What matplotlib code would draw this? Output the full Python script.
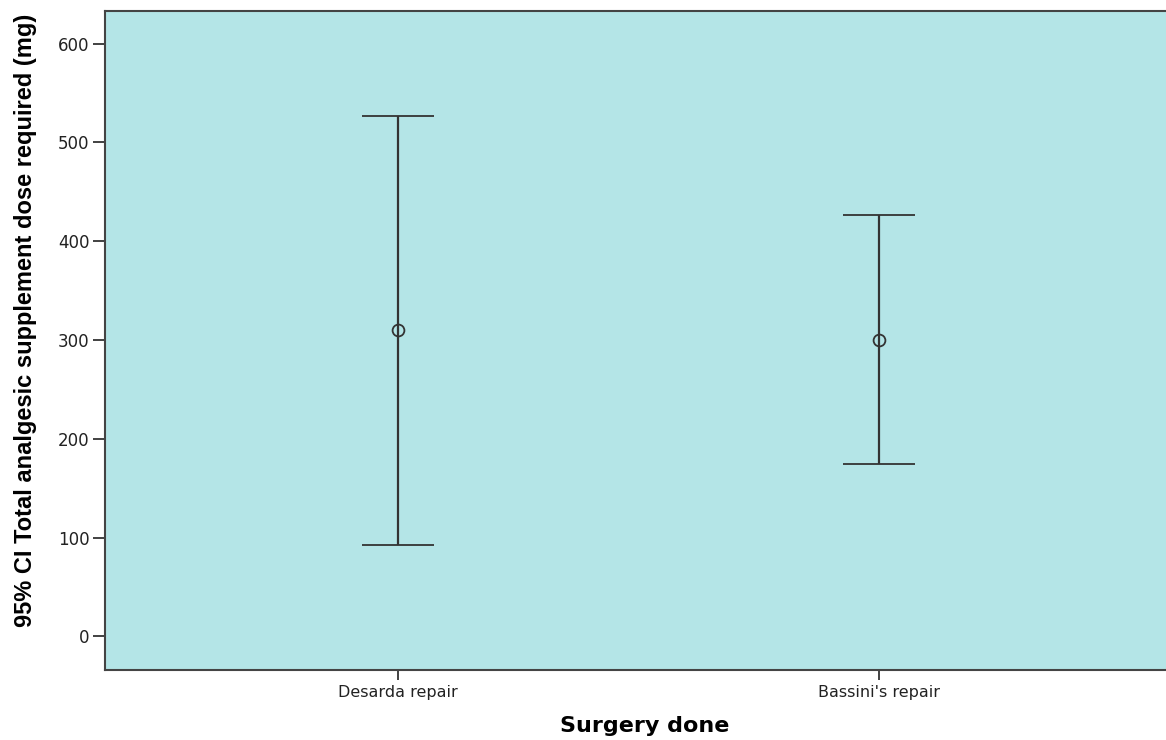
import matplotlib.pyplot as plt

# group names and 95% CI values
groups = ['Desarda repair', "Bassini's repair"]
means = [310, 300]
ci_lower = [93, 174]
ci_upper = [527, 427]

plt.rcParams['font.family'] = ['DejaVu Sans']

fig = plt.figure(figsize=(11.66, 7.40), dpi=100)
ax = fig.add_axes([105 / 1166, 1 - 670 / 740, 1 - 105 / 1166 + 0.001, (670 - 11) / 740])
ax.set_facecolor('#b4e5e7')

x = list(range(len(groups)))
err_low = [m - lo for m, lo in zip(means, ci_lower)]
err_high = [hi - m for m, hi in zip(means, ci_upper)]
ax.errorbar(x, means, yerr=[err_low, err_high], fmt='o', mfc='none', mec='#333333',
            ms=8.5, mew=1.3, ecolor='#333333', elinewidth=1.6, capsize=26, capthick=1.5)

ax.set_xlim(-0.61, 1.6)
ax.set_ylim(-34, 633)
ax.set_yticks([0, 100, 200, 300, 400, 500, 600])
ax.set_xticks(x)
ax.set_xticklabels(groups)
ax.tick_params(axis='y', direction='out', length=9, width=1.3, color='#333333',
               labelsize=12, labelcolor='#222222', pad=2)
ax.tick_params(axis='x', direction='out', length=7, width=1.3, color='#333333',
               labelsize=11.5, labelcolor='#222222', pad=4)

for side in ['left', 'bottom', 'top', 'right']:
    ax.spines[side].set_color('#444444')
    ax.spines[side].set_linewidth(1.5)

ax.set_ylabel('95% CI Total analgesic supplement dose required (mg)',
              family=['Liberation Sans'], fontweight='bold', fontsize=17)
ax.yaxis.set_label_coords(-0.064, 0.53)
ax.set_xlabel('Surgery done', fontweight='bold', fontsize=16)
ax.xaxis.set_label_coords(0.508, -0.07)

fig.savefig('out.png', dpi=100)
